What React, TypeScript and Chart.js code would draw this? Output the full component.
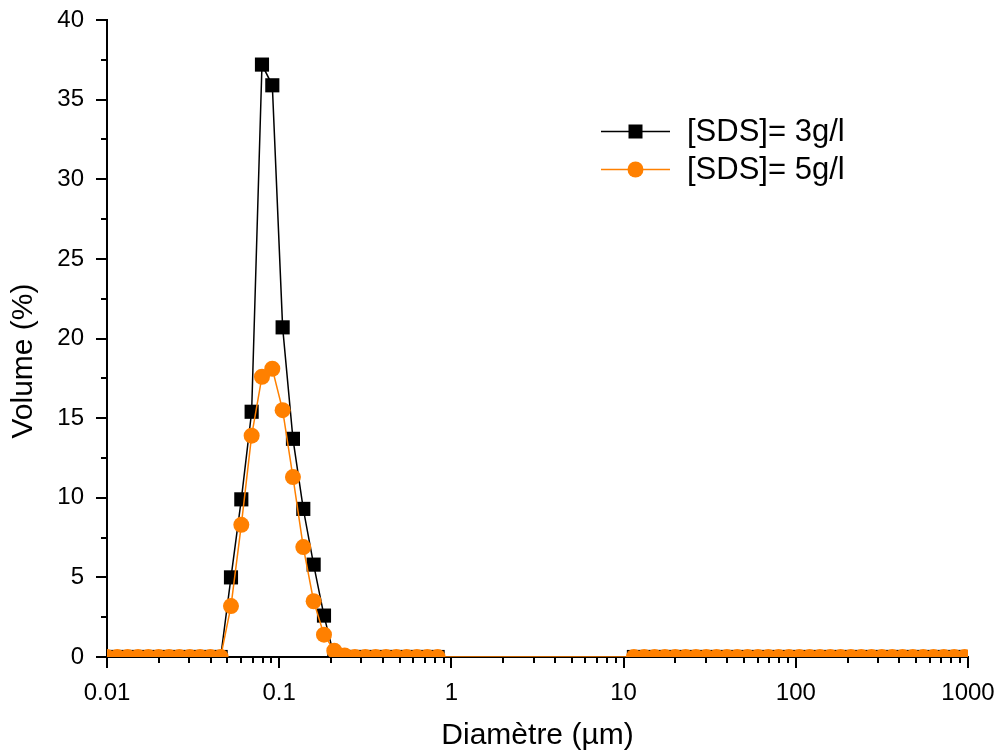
import React, { useEffect, useRef } from "react";
import { Chart, registerables } from "chart.js";

Chart.register(...registerables);

// Particle size classes (µm)
const diameters: number[] = [
  0.01, 0.01148, 0.01318, 0.01514, 0.01738, 0.01995, 0.02291, 0.0263, 0.0302, 0.03467,
  0.03981, 0.04571, 0.05248, 0.06026, 0.06918, 0.07943, 0.0912, 0.1047, 0.1202, 0.138,
  0.1585, 0.182, 0.2089, 0.2399, 0.2754, 0.3162, 0.3631, 0.4169, 0.4786, 0.5495,
  0.631, 0.7244, 0.8318,
  11.48, 13.18, 15.14, 17.38, 19.95, 22.91, 26.3, 30.2, 34.67, 39.81,
  45.71, 52.48, 60.26, 69.18, 79.43, 91.2, 104.7, 120.2, 138, 158.5,
  182, 208.9, 239.9, 275.4, 316.2, 363.1, 416.9, 478.6, 549.5, 631,
  724.4, 831.8, 955,
];

// [SDS] = 3 g/l (volume %)
const sds3: number[] = [
  0, 0, 0, 0, 0, 0, 0, 0, 0, 0,
  0, 0, 5.0, 9.9, 15.4, 37.2, 35.9, 20.7, 13.7, 9.3,
  5.8, 2.6, 0, 0, 0, 0, 0, 0, 0, 0,
  0, 0, 0,
  0, 0, 0, 0, 0, 0, 0, 0, 0, 0,
  0, 0, 0, 0, 0, 0, 0, 0, 0, 0,
  0, 0, 0, 0, 0, 0, 0, 0, 0, 0,
  0, 0, 0,
];

// [SDS] = 5 g/l (volume %)
const sds5: number[] = [
  0, 0, 0, 0, 0, 0, 0, 0, 0, 0,
  0, 0, 3.2, 8.3, 13.9, 17.6, 18.1, 15.5, 11.3, 6.9,
  3.5, 1.4, 0.4, 0.1, 0, 0, 0, 0, 0, 0,
  0, 0, 0,
  0, 0, 0, 0, 0, 0, 0, 0, 0, 0,
  0, 0, 0, 0, 0, 0, 0, 0, 0, 0,
  0, 0, 0, 0, 0, 0, 0, 0, 0, 0,
  0, 0, 0,
];

const seriesLabels = ["[SDS]= 3g/l", "[SDS]= 5g/l"];
const xTitle = "Diamètre (µm)";
const yTitle = "Volume (%)";
const yTickStep = 5;
const yMinorStep = 2.5;
const xMin = 0.01;
const xMax = 1000;
const yMin = 0;
const yMax = 40;

const FONT = "'Liberation Sans', Arial, Helvetica, sans-serif";
const ORANGE = "#FF8000";

const ticksPlugin = {
  id: "originTicks",
  afterDatasetsDraw(chart: any) {
    const ctx = chart.ctx;
    const xs = chart.scales.x;
    const ys = chart.scales.y;
    const area = chart.chartArea;
    ctx.save();
    ctx.strokeStyle = "#000";
    ctx.lineWidth = 2;
    ctx.lineCap = "butt";
    for (let v = yMin; v <= yMax + 1e-9; v += yMinorStep) {
      const major = Math.abs(v / yTickStep - Math.round(v / yTickStep)) < 1e-9;
      const len = major ? 11 : 6;
      const py = Math.round(ys.getPixelForValue(v));
      ctx.beginPath();
      ctx.moveTo(area.left - len, py);
      ctx.lineTo(area.left, py);
      ctx.stroke();
    }
    for (let d = -2; d <= 3; d++) {
      for (let m = 1; m <= 9; m++) {
        const v = m * Math.pow(10, d);
        if (v > xMax * 1.0001) break;
        const len = m === 1 ? 11 : 6;
        const px = Math.round(xs.getPixelForValue(v));
        ctx.beginPath();
        ctx.moveTo(px, area.bottom);
        ctx.lineTo(px, area.bottom + len);
        ctx.stroke();
      }
    }
    // y axis title
    ctx.save();
    ctx.translate(24, 361);
    ctx.rotate(-Math.PI / 2);
    ctx.fillStyle = "#000";
    ctx.font = `30px ${FONT}`;
    ctx.textAlign = "center";
    ctx.textBaseline = "middle";
    ctx.fillText(yTitle, 0, 0);
    ctx.restore();
    ctx.restore();
  },
};

const legendPlugin = {
  id: "insideLegend",
  afterDraw(chart: any) {
    const ctx = chart.ctx;
    const rows = [
      { y: 131.5, color: "#000", style: "rect", label: seriesLabels[0] },
      { y: 169.5, color: ORANGE, style: "circle", label: seriesLabels[1] },
    ];
    ctx.save();
    rows.forEach((r) => {
      ctx.strokeStyle = r.color;
      ctx.lineWidth = 1.5;
      ctx.beginPath();
      ctx.moveTo(601, r.y);
      ctx.lineTo(670, r.y);
      ctx.stroke();
      ctx.fillStyle = r.color;
      if (r.style === "rect") {
        ctx.fillRect(635.5 - 7, r.y - 7, 14, 14);
      } else {
        ctx.beginPath();
        ctx.arc(635.5, r.y, 8, 0, Math.PI * 2);
        ctx.fill();
      }
      ctx.fillStyle = "#000";
      ctx.font = `31px ${FONT}`;
      ctx.textBaseline = "middle";
      ctx.textAlign = "left";
      ctx.fillText(r.label, 687, r.y + 1);
    });
    ctx.restore();
  },
};

export default function App() {
  const ref = useRef<HTMLCanvasElement | null>(null);

  useEffect(() => {
    document.body.style.margin = "0";
    const canvas = ref.current;
    if (!canvas) return;
    const mk = (ys: number[]) => diameters.map((x, i) => ({ x, y: ys[i] }));
    const chart = new Chart(canvas, {
      type: "line",
      data: {
        datasets: [
          {
            label: seriesLabels[0],
            data: mk(sds3),
            borderColor: "#000",
            backgroundColor: "#000",
            borderWidth: 1.5,
            pointStyle: "rect",
            pointRadius: 10,
            pointBorderWidth: 0,
            pointHoverRadius: 10,
            clip: 0,
            order: 2,
          },
          {
            label: seriesLabels[1],
            data: mk(sds5),
            borderColor: ORANGE,
            backgroundColor: ORANGE,
            borderWidth: 1.5,
            pointStyle: "circle",
            pointRadius: 8,
            pointBorderWidth: 0,
            pointHoverRadius: 8,
            clip: 0,
            order: 1,
          },
        ],
      },
      options: {
        animation: false,
        responsive: false,
        devicePixelRatio: 1,
        layout: { padding: { top: 20, right: 31, left: 0, bottom: 0 } },
        plugins: {
          legend: { display: false },
          tooltip: { enabled: false },
        },
        scales: {
          x: {
            type: "logarithmic",
            min: xMin,
            max: xMax,
            afterFit: (s: any) => {
              s.height = 97;
              s.paddingLeft = 0;
              s.paddingRight = 0;
            },
            grid: {
              display: true,
              drawOnChartArea: false,
              drawTicks: true,
              tickLength: 11,
              tickColor: "rgba(0,0,0,0)",
            },
            border: { display: true, color: "#000", width: 2 },
            ticks: {
              autoSkip: false,
              maxRotation: 0,
              padding: 11,
              color: "#000",
              font: { family: FONT, size: 24 },
              callback: (v: any) => {
                const l = Math.log10(v);
                if (Math.abs(l - Math.round(l)) > 1e-6) return "";
                return String(Number(Number(v).toPrecision(1)));
              },
            },
            title: {
              display: true,
              text: xTitle,
              color: "#000",
              font: { family: FONT, size: 30 },
              padding: { top: 0, bottom: 0 },
            },
          },
          y: {
            type: "linear",
            min: yMin,
            max: yMax,
            afterFit: (s: any) => {
              s.width = 107;
              s.paddingTop = 0;
              s.paddingBottom = 0;
            },
            grid: {
              display: true,
              drawOnChartArea: false,
              drawTicks: true,
              tickLength: 11,
              tickColor: "rgba(0,0,0,0)",
            },
            border: { display: true, color: "#000", width: 2 },
            ticks: {
              stepSize: yTickStep,
              padding: 12,
              color: "#000",
              font: { family: FONT, size: 24 },
            },
            title: { display: false },
          },
        },
      },
      plugins: [ticksPlugin, legendPlugin],
    } as any);
    return () => chart.destroy();
  }, []);

  return (
    <div style={{ position: "absolute", left: 0, top: 0, width: 999, height: 754, background: "#fff" }}>
      <canvas ref={ref} width={999} height={754} style={{ width: 999, height: 754 }} />
    </div>
  );
}
